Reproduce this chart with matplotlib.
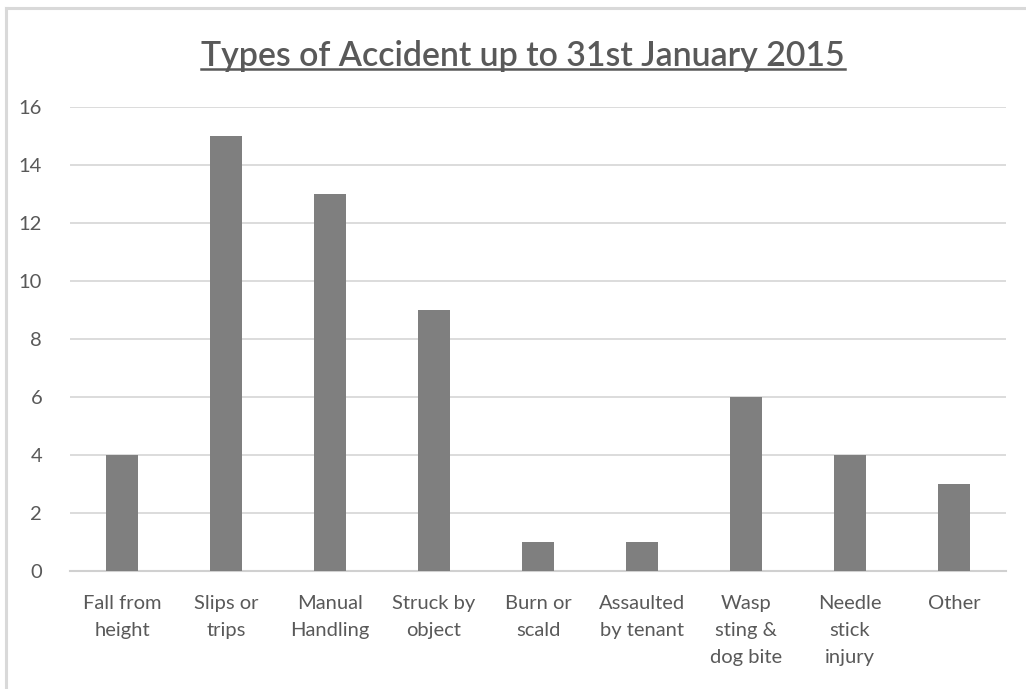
import matplotlib
matplotlib.use('Agg')
import matplotlib.pyplot as plt
from matplotlib.lines import Line2D

categorias = ['Fall from\nheight', 'Slips or\ntrips', 'Manual\nHandling', 'Struck by\nobject',
              'Burn or\nscald', 'Assaulted\nby tenant', 'Wasp\nsting &\ndog bite',
              'Needle\nstick\ninjury', 'Other']
quantidades = [4, 15, 13, 9, 1, 1, 6, 4, 3]
ticks_y = [0, 2, 4, 6, 8, 10, 12, 14, 16]
titulo = 'Types of Accident up to 31st January 2015'

cinza_texto = '#595959'
plt.rcParams['font.family'] = ['Lato', 'DejaVu Sans']

fig = plt.figure(figsize=(10.26, 6.89), dpi=100)
ax = fig.add_axes([70 / 1026, 118 / 689, 936 / 1026, 464 / 689])

x = list(range(len(categorias)))
ax.bar(x, quantidades, width=0.31, color='#7f7f7f', zorder=3)

ax.set_xlim(-0.5, len(categorias) - 0.5)
ax.set_ylim(0, 16)
ax.set_yticks(ticks_y)
ax.set_yticklabels([str(t) for t in ticks_y])
ax.set_xticks(x)
ax.set_xticklabels(categorias, linespacing=1.72, va='top')
ax.yaxis.grid(True, color='#d9d9d9', linewidth=1.3, zorder=0)

for lado in ['top', 'right', 'left']:
    ax.spines[lado].set_visible(False)
ax.spines['bottom'].set_color('#d0d0d0')
ax.spines['bottom'].set_linewidth(1.5)

ax.tick_params(axis='both', length=0, labelsize=14.5, labelcolor=cinza_texto)
ax.tick_params(axis='y', pad=20)
ax.tick_params(axis='x', pad=17)

# titulo sublinhado
t = fig.text(523 / 1026, 1 - 56 / 689, titulo, ha='center', va='center',
             fontsize=24.4, color=cinza_texto, fontweight='semibold')
fig.canvas.draw()
bb = t.get_window_extent().transformed(fig.transFigure.inverted())
y_linha = bb.y0 + 0.004
fig.add_artist(Line2D([bb.x0, bb.x1], [y_linha, y_linha], transform=fig.transFigure,
                      color=cinza_texto, linewidth=1.8))

# borda do grafico (so topo e esquerda aparecem)
fig.add_artist(Line2D([6 / 1026, 1], [1 - 8 / 689, 1 - 8 / 689], transform=fig.transFigure,
                      color='#d9d9d9', linewidth=2.2))
fig.add_artist(Line2D([6 / 1026, 6 / 1026], [0, 1 - 8 / 689], transform=fig.transFigure,
                      color='#d9d9d9', linewidth=2.2))

plt.savefig('out.png', dpi=100)
